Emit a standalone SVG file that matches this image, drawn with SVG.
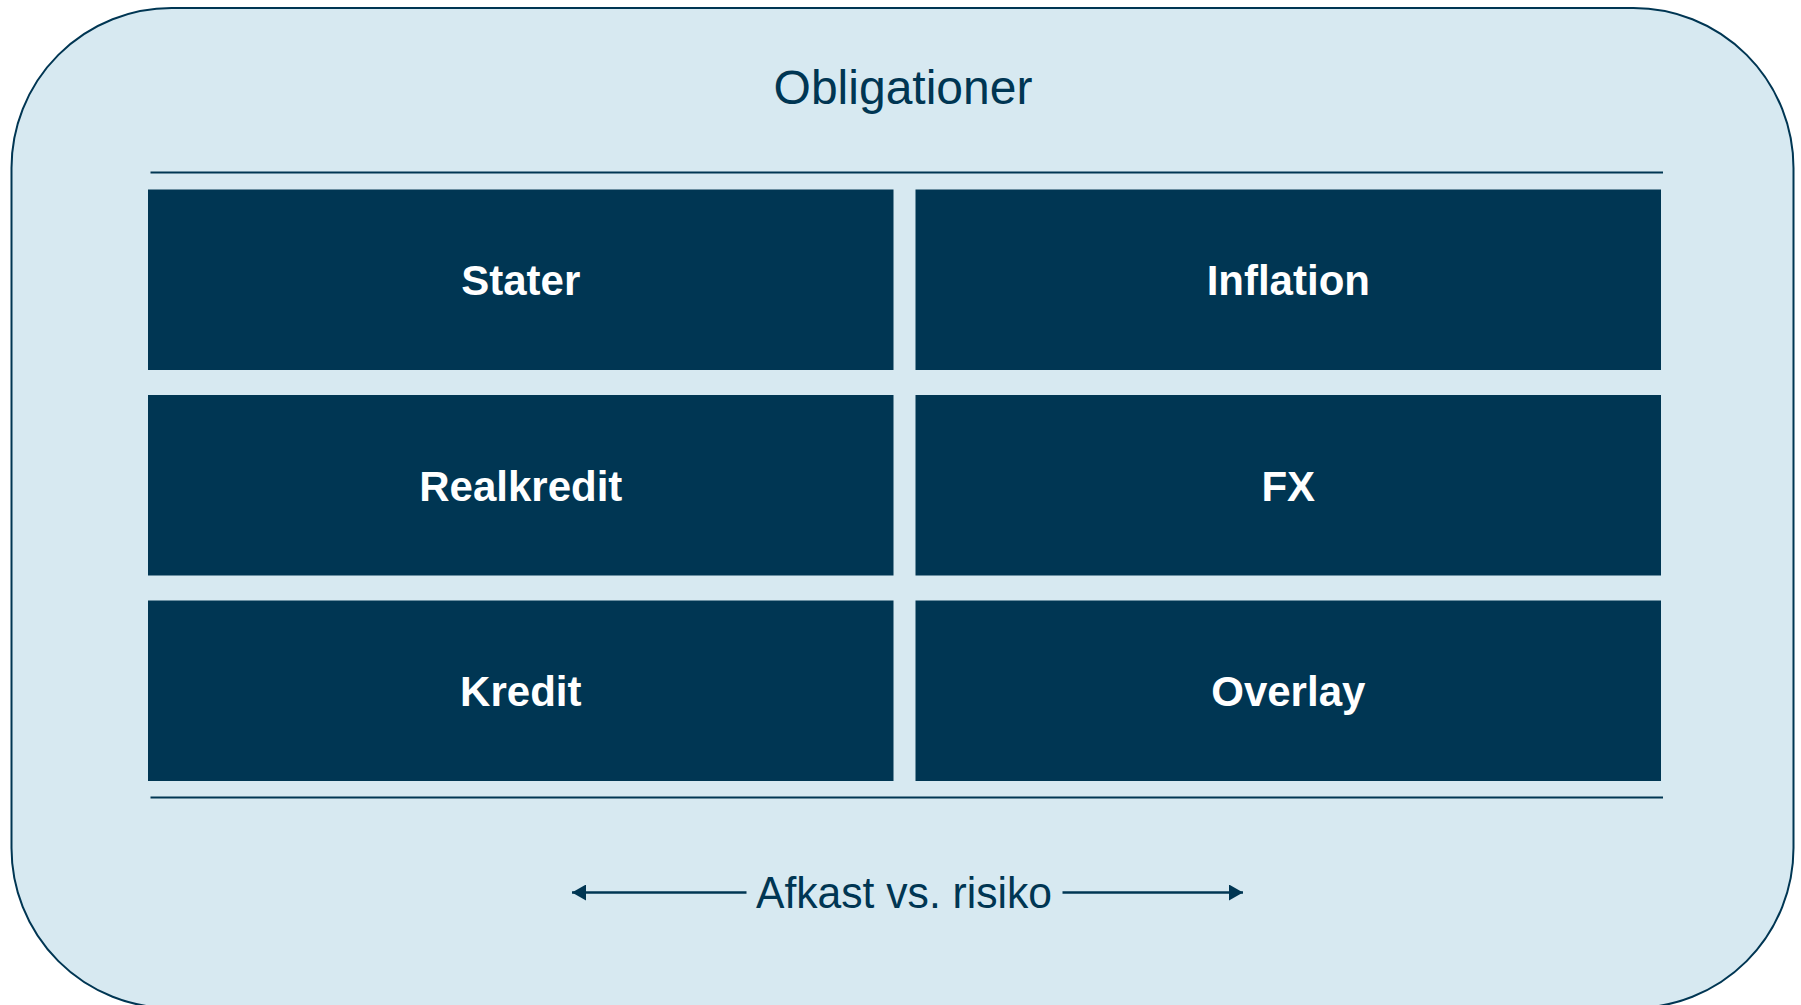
<svg xmlns="http://www.w3.org/2000/svg" width="1801" height="1005" viewBox="0 0 1801 1005">
<style>
.box{fill:#003653;}
.lbl{font-family:"Liberation Sans",Arial,sans-serif;font-weight:bold;font-size:42px;fill:#ffffff;text-anchor:middle;}
.rule{stroke:#003653;stroke-width:2;}
.conn{stroke:#003653;stroke-width:2.5;fill:none;}
</style>
<defs>
<marker id="ah" viewBox="0 0 14 16" refX="14" refY="8" markerWidth="14" markerHeight="16" markerUnits="userSpaceOnUse" orient="auto-start-reverse" preserveAspectRatio="none">
<path d="M0,0 L14,8 L0,16 Z" fill="#003653"/>
</marker>
</defs>
<rect width="1801" height="1005" fill="#ffffff"/>
<g id="container">
<rect x="11.5" y="8" width="1782" height="1000" rx="160" ry="160" fill="#d7e9f1" stroke="#003653" stroke-width="2"/>
<text x="903" y="104" font-family="Liberation Sans,Arial,sans-serif" font-size="48" fill="#003653" text-anchor="middle">Obligationer</text>
<line class="rule" x1="150.5" y1="172.5" x2="1663" y2="172.5"/>
<line class="rule" x1="150.5" y1="797.5" x2="1663" y2="797.5"/>
</g>
<g id="stater"><rect class="box" x="148" y="189.5" width="745.5" height="180.5"/><text class="lbl" x="520.8" y="295">Stater</text></g>
<g id="inflation"><rect class="box" x="915.5" y="189.5" width="745.5" height="180.5"/><text class="lbl" x="1288.3" y="295">Inflation</text></g>
<g id="realkredit"><rect class="box" x="148" y="395" width="745.5" height="180.5"/><text class="lbl" x="520.8" y="500.5">Realkredit</text></g>
<g id="fx"><rect class="box" x="915.5" y="395" width="745.5" height="180.5"/><text class="lbl" x="1288.3" y="500.5">FX</text></g>
<g id="kredit"><rect class="box" x="148" y="600.5" width="745.5" height="180.5"/><text class="lbl" x="520.8" y="706">Kredit</text></g>
<g id="overlay"><rect class="box" x="915.5" y="600.5" width="745.5" height="180.5"/><text class="lbl" x="1288.3" y="706">Overlay</text></g>
<g id="connectors">
<line class="conn" x1="746.5" y1="892.5" x2="572" y2="892.5" marker-end="url(#ah)"/>
<line class="conn" x1="1062.5" y1="892.5" x2="1243" y2="892.5" marker-end="url(#ah)"/>
</g>
<g id="axis-label">
<text x="904" y="908" font-family="Liberation Sans,Arial,sans-serif" font-size="45" fill="#003653" text-anchor="middle" textLength="296" lengthAdjust="spacingAndGlyphs">Afkast vs. risiko</text>
</g>
</svg>
